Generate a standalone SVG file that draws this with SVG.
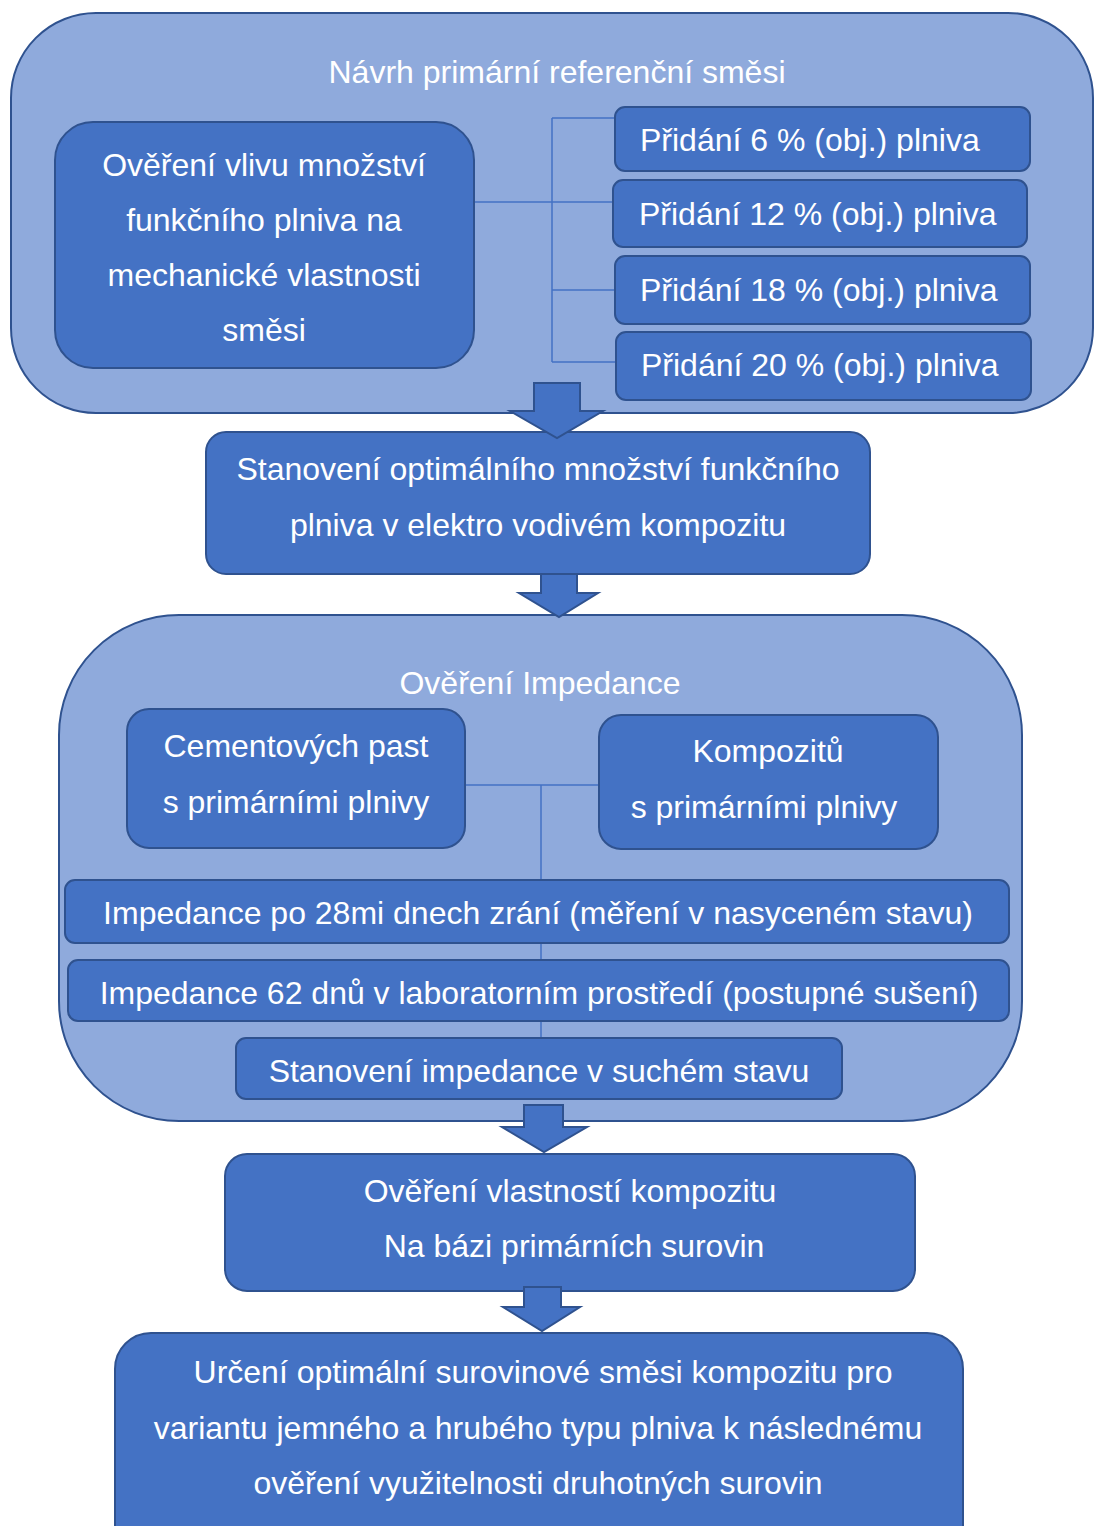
<svg xmlns="http://www.w3.org/2000/svg" width="1094" height="1526" viewBox="0 0 1094 1526">
<style>
.outer{fill:#8FAADC;stroke:#2F528F;stroke-width:2}
.box{fill:#4472C4;stroke:#2F528F;stroke-width:2}
.arrow{fill:#4472C4;stroke:#2F528F;stroke-width:2;stroke-linejoin:miter}
.conn{fill:none;stroke:#4472C4;stroke-width:1.5}
text{font-family:"Liberation Sans",Arial,sans-serif;font-size:32px;fill:#FFFFFF}
.c{text-anchor:middle}
</style>
<rect width="1094" height="1526" fill="#FFFFFF"/>
<g id="group1">
<rect class="outer" x="11" y="13" width="1082" height="400" rx="85" ry="85"/>
<text class="c" x="557" y="83">Návrh primární referenční směsi</text>
</g>
<g id="group2">
<rect class="outer" x="59" y="615" width="963" height="506" rx="120" ry="120"/>
<text class="c" x="540" y="694">Ověření Impedance</text>
</g>
<g id="connectors">
<path class="conn" d="M474 202 H614 M552 118 V362 M552 118 H615 M552 290 H615 M552 362 H616"/>
<path class="conn" d="M465 785 H599 M541 785 V1038"/>
</g>
<g id="n_vliv">
<rect class="box" x="55" y="122" width="419" height="246" rx="38" ry="38"/>
<text class="c" x="264" y="176">Ověření vlivu množství</text>
<text class="c" x="264" y="231">funkčního plniva na</text>
<text class="c" x="264" y="286">mechanické vlastnosti</text>
<text class="c" x="264" y="341">směsi</text>
</g>
<g id="n_6">
<rect class="box" x="615" y="107" width="415" height="64" rx="10" ry="10"/>
<text x="640" y="151">Přidání 6 % (obj.) plniva</text>
</g>
<g id="n_12">
<rect class="box" x="613" y="180" width="414" height="67" rx="10" ry="10"/>
<text x="639" y="225">Přidání 12 % (obj.) plniva</text>
</g>
<g id="n_18">
<rect class="box" x="615" y="256" width="415" height="68" rx="10" ry="10"/>
<text x="640" y="301">Přidání 18 % (obj.) plniva</text>
</g>
<g id="n_20">
<rect class="box" x="616" y="332" width="415" height="68" rx="10" ry="10"/>
<text x="641" y="376">Přidání 20 % (obj.) plniva</text>
</g>
<g id="n_optimal">
<rect class="box" x="206" y="432" width="664" height="142" rx="20" ry="20"/>
<text class="c" x="538" y="480">Stanovení optimálního množství funkčního</text>
<text class="c" x="538" y="536">plniva v elektro vodivém kompozitu</text>
</g>
<g id="n_cement">
<rect class="box" x="127" y="709" width="338" height="139" rx="22" ry="22"/>
<text class="c" x="296" y="757">Cementových past</text>
<text class="c" x="296" y="813">s primárními plnivy</text>
</g>
<g id="n_kompozit">
<rect class="box" x="599" y="715" width="339" height="134" rx="22" ry="22"/>
<text class="c" x="768" y="762">Kompozitů</text>
<text class="c" x="764" y="818">s primárními plnivy</text>
</g>
<g id="n_imp28">
<rect class="box" x="65" y="880" width="944" height="63" rx="10" ry="10"/>
<text class="c" x="538" y="924">Impedance po 28mi dnech zrání (měření v nasyceném stavu)</text>
</g>
<g id="n_imp62">
<rect class="box" x="68" y="960" width="941" height="61" rx="10" ry="10"/>
<text class="c" x="539" y="1004">Impedance 62 dnů v laboratorním prostředí (postupné sušení)</text>
</g>
<g id="n_sucho">
<rect class="box" x="236" y="1038" width="606" height="61" rx="10" ry="10"/>
<text class="c" x="539" y="1082">Stanovení impedance v suchém stavu</text>
</g>
<g id="n_vlastnosti">
<rect class="box" x="225" y="1154" width="690" height="137" rx="22" ry="22"/>
<text class="c" x="570" y="1202">Ověření vlastností kompozitu</text>
<text class="c" x="574" y="1257">Na bázi primárních surovin</text>
</g>
<g id="n_final">
<rect class="box" x="115" y="1333" width="848" height="230" rx="36" ry="36"/>
<text class="c" x="543" y="1383">Určení optimální surovinové směsi kompozitu pro</text>
<text class="c" x="538" y="1439">variantu jemného a hrubého typu plniva k následnému</text>
<text class="c" x="538" y="1494">ověření využitelnosti druhotných surovin</text>
</g>
<g id="arrows">
<polygon class="arrow" points="534,383 580,383 580,411 603,411 557,438 510,411 534,411"/>
<polygon class="arrow" points="541,574 577,574 577,593 598,593 559,617 519,593 541,593"/>
<polygon class="arrow" points="524,1105 563,1105 563,1127 587,1127 544,1152 502,1127 524,1127"/>
<polygon class="arrow" points="524,1287 561,1287 561,1307 580,1307 542,1331 503,1307 524,1307"/>
</g>
</svg>
